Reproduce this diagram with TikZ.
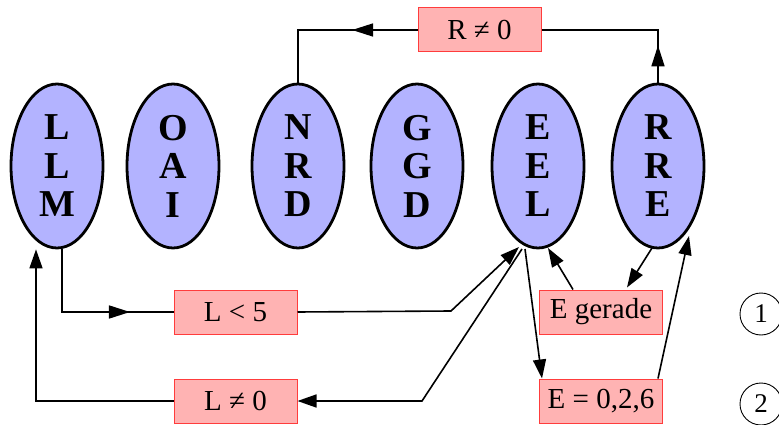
\documentclass[tikz,border=0pt]{standalone}
\usepackage{fontspec}
\setmainfont{Liberation Serif}
\usetikzlibrary{arrows.meta,decorations.markings,shapes.geometric}
\definecolor{ovalfill}{RGB}{179,179,255}
\definecolor{boxfill}{RGB}{255,179,179}
\definecolor{boxline}{RGB}{255,60,60}
\begin{document}
\begin{tikzpicture}[x=1pt,y=-1pt,
 oval/.style={ellipse, draw=black, line width=2.8pt, fill=ovalfill, minimum width=92pt, minimum height=164pt, inner sep=0pt, align=center, font=\bfseries\fontsize{38}{38.5}\selectfont},
 cond/.style={rectangle, draw=boxline, line width=1pt, fill=boxfill, minimum width=123pt, minimum height=44pt, inner sep=0pt, font=\fontsize{29}{30}\selectfont},
 conn/.style={line width=1.6pt},
 tip/.style={-{Triangle[length=19pt,width=13pt]}},
 midarrow/.style={postaction={decorate}, decoration={markings, mark=at position #1 with {\arrow{Triangle[length=21pt,width=13pt]}}}},
 num/.style={circle, draw, line width=0.9pt, minimum size=42pt, inner sep=0pt, font=\fontsize{27}{28}\selectfont}]
\useasboundingbox (0,0) rectangle (779,425);

% ovals
\node[oval] (LLM) at (57,166) {L\\L\\M};
\node[oval] (OAI) at (173,166) {O\\A\\I};
\node[oval] (NRD) at (298,166) {N\\R\\D};
\node[oval] (GGD) at (417,166) {G\\G\\D};
\node[oval] (EEL) at (538,166) {E\\E\\L};
\node[oval] (RRE) at (658,166) {R\\R\\E};

% condition boxes
\node[cond] (Rne) at (479.5,30) {R ≠ 0\hspace{18pt}};
\node[cond] (L5) at (235.5,312) {L < 5};
\node[cond] (Lne) at (235.5,401) {L ≠ 0};
\node[cond] (Eg) at (601,312) {E gerade};
\node[cond] (E026) at (601,401) {E = 0,2,6};

% circled numbers
\node[num] (n1) at (761,314) {1};
\node[num] (n2) at (761,404) {2};

% connectors
\draw[conn, midarrow=0.38] (Rne.west) -| (NRD.north);
\draw[conn, midarrow=0.22] (RRE.north) |- (Rne.east);
\draw[conn, midarrow=0.75] ([xshift=5pt]LLM.south) |- (L5.west);
\draw[conn, tip] (L5.east) -- (451,311) -- ([shift={(-19,81)}]EEL.center);
\draw[conn, tip] ([shift={(-16,83)}]EEL.center) -- (422,401) -- (Lne.east);
\draw[conn, tip] (Lne.west) -| ([xshift=-21pt]LLM.south);
\draw[conn, tip] ([xshift=-28pt]Eg.north) -- ([shift={(10,82)}]EEL.center);
\draw[conn, tip] ([shift={(-6,82)}]RRE.center) -- ([xshift=26pt,yshift=2pt]Eg.north);
\draw[conn, tip] ([shift={(-13,83)}]EEL.center) -- ([xshift=-59pt]E026.north);
\draw[conn, tip] ([xshift=57pt]E026.north) -- ([shift={(31,70)}]RRE.center);
\end{tikzpicture}
\end{document}
